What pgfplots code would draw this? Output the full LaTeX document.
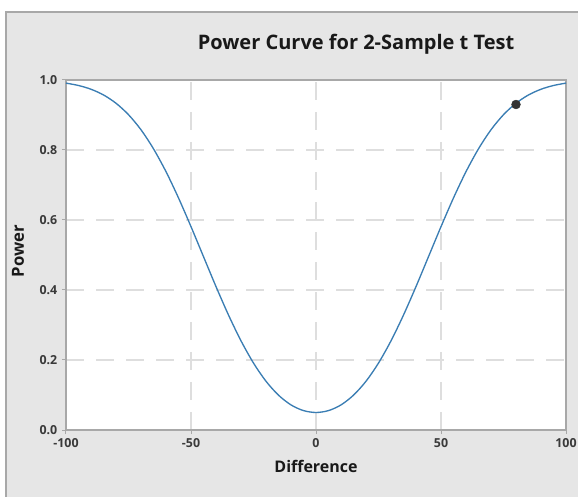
\documentclass[border=0pt]{standalone}
\usepackage{fontspec}
\setmainfont{Open Sans}
\usepackage{pgfplots}
\pgfplotsset{compat=1.18}

\definecolor{panelgray}{HTML}{E6E6E6}
\definecolor{framegray}{HTML}{A8A8A8}
\definecolor{gridgray}{HTML}{DEDEDE}
\definecolor{curveblue}{HTML}{3A7DB3}
\definecolor{labelgray}{HTML}{3A3A3A}

\begin{document}
\begin{tikzpicture}
% picture frame: 578 x 496 px at 0.75pt per px
\useasboundingbox (-49.5pt,-49.5pt) rectangle (384pt,322.5pt);
\fill[white] (-49.5pt,-49.5pt) rectangle (384pt,322.5pt);
\filldraw[fill=panelgray, draw=framegray, line width=0.9pt] (-45pt,-60pt) rectangle (395pt,313.5pt);

\begin{axis}[
    at={(0pt,0pt)}, anchor=south west,
    scale only axis,
    width=375pt, height=262.5pt,
    xmin=-100, xmax=100, ymin=0, ymax=1,
    xtick={-100,-50,0,50,100},
    ytick={0,0.2,0.4,0.6,0.8,1.0},
    yticklabel style={/pgf/number format/fixed, /pgf/number format/fixed zerofill,
        /pgf/number format/precision=1},
    /pgf/number format/assume math mode=true,
    tick label style={font=\bfseries\fontsize{9.3}{10}\selectfont, text=labelgray},
    axis background/.style={fill=white},
    axis line style={framegray, line width=0.9pt},
    tick style={framegray, line width=0.75pt},
    tick align=outside, tick pos=left,
    major tick length=3pt,
    grid=major,
    major grid style={gridgray, dash pattern=on 13.5pt off 9pt, line width=0.9pt},
]
% power of the test at each difference
\addplot[curveblue, line width=1pt, smooth] coordinates {
    (-100,0.9911) (-95,0.9843) (-90,0.9736) (-85,0.9573) (-80,0.9336)
    (-75,0.9009) (-70,0.8578) (-65,0.8034) (-60,0.7381) (-55,0.6631)
    (-50,0.5810) (-45,0.4953) (-40,0.4098) (-35,0.3285) (-30,0.2548)
    (-25,0.1913) (-20,0.1393) (-15,0.0995) (-10,0.0717) (-5,0.0554)
    (0,0.0500)
    (5,0.0554) (10,0.0717) (15,0.0995) (20,0.1393) (25,0.1913)
    (30,0.2548) (35,0.3285) (40,0.4098) (45,0.4953) (50,0.5810)
    (55,0.6631) (60,0.7381) (65,0.8034) (70,0.8578) (75,0.9009)
    (80,0.9336) (85,0.9573) (90,0.9736) (95,0.9843) (100,0.9911)
};
\addplot[only marks, mark=*, mark size=3.3pt, color=black!80] coordinates {(80,0.93)};
\end{axis}

\node[anchor=base, font=\bfseries\fontsize{15}{17}\selectfont, text=black!90]
    at (217.5pt,285pt) {Power Curve for 2-Sample t Test};
\node[anchor=base, font=\bfseries\fontsize{12}{14}\selectfont, text=black!90]
    at (187.5pt,-31.5pt) {Difference};
\node[rotate=90, font=\bfseries\fontsize{12.5}{14}\selectfont, text=black!90]
    at (-36pt,134pt) {Power};
\end{tikzpicture}
\end{document}
